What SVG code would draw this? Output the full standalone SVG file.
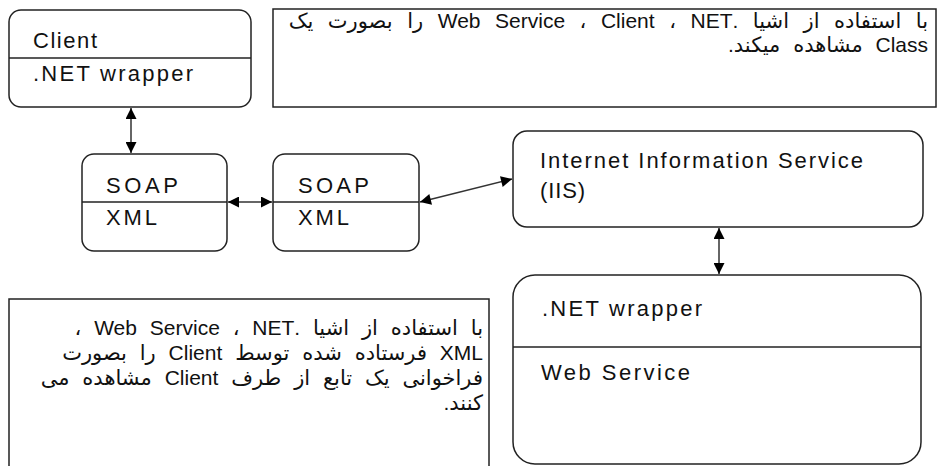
<svg xmlns="http://www.w3.org/2000/svg" width="937" height="466" viewBox="0 0 937 466">
<style>
.box{fill:#fff;stroke:#222;stroke-width:1.5}
.div{stroke:#222;stroke-width:1.5}
.lbl{font-family:"Liberation Sans",Arial,sans-serif;font-size:22px;fill:#111}
.fa{font-family:"Liberation Sans","DejaVu Sans",sans-serif;font-size:21px;word-spacing:7px;fill:#111}
.con{stroke:#333;stroke-width:1.5;fill:none;marker-start:url(#ah);marker-end:url(#ah)}
</style>
<defs>
<marker id="ah" viewBox="0 0 10 10" refX="10" refY="5" markerWidth="12" markerHeight="11" markerUnits="userSpaceOnUse" orient="auto-start-reverse">
<path d="M0,0 L10,5 L0,10 z" fill="#000"/>
</marker>
</defs>
<rect width="937" height="466" fill="#fff"/>
<g id="client">
<rect class="box" x="9" y="10" width="242" height="97" rx="12"/>
<line class="div" x1="9" y1="58" x2="251" y2="58"/>
<text class="lbl" x="33" y="48" textLength="64" lengthAdjust="spacing">Client</text>
<text class="lbl" x="33" y="81" textLength="160" lengthAdjust="spacing">.NET wrapper</text>
</g>
<g id="note-top">
<rect class="box" x="273" y="9" width="663" height="98"/>
<text class="fa" direction="rtl" x="928" y="28" text-anchor="start" style="word-spacing:8.7px">با استفاده از اشیا .NET &#x200F;، Client &#x200F;، Web Service را بصورت یک</text>
<text class="fa" direction="rtl" x="928" y="52" text-anchor="start">Class مشاهده میکند.</text>
</g>
<g id="soap1">
<rect class="box" x="82" y="154" width="145" height="97" rx="12"/>
<line class="div" x1="82" y1="202" x2="227" y2="202"/>
<text class="lbl" x="106" y="193" textLength="72" lengthAdjust="spacing">SOAP</text>
<text class="lbl" x="106" y="225" textLength="51" lengthAdjust="spacing">XML</text>
</g>
<g id="soap2">
<rect class="box" x="273" y="154" width="146" height="97" rx="12"/>
<line class="div" x1="273" y1="202" x2="419" y2="202"/>
<text class="lbl" x="298" y="193" textLength="71" lengthAdjust="spacing">SOAP</text>
<text class="lbl" x="298" y="225" textLength="51" lengthAdjust="spacing">XML</text>
</g>
<g id="iis">
<rect class="box" x="513" y="131" width="410" height="96" rx="14"/>
<text class="lbl" x="540" y="168" textLength="323" lengthAdjust="spacing">Internet Information Service</text>
<text class="lbl" x="540" y="198" textLength="45" lengthAdjust="spacing">(IIS)</text>
</g>
<g id="webservice">
<rect class="box" x="513" y="275" width="408" height="189" rx="22"/>
<line class="div" x1="513" y1="347" x2="921" y2="347"/>
<text class="lbl" x="542" y="316" textLength="160" lengthAdjust="spacing">.NET wrapper</text>
<text class="lbl" x="541" y="380" textLength="149" lengthAdjust="spacing">Web Service</text>
</g>
<g id="note-bottom">
<rect class="box" x="9" y="299" width="480" height="200"/>
<text class="fa" direction="rtl" x="483" y="335" text-anchor="start">با استفاده از اشیا .NET &#x200F;، Web Service &#x200F;،</text>
<text class="fa" direction="rtl" x="483" y="360" text-anchor="start">XML فرستاده شده توسط Client را بصورت</text>
<text class="fa" direction="rtl" x="483" y="385" text-anchor="start">فراخوانی یک تابع از طرف Client مشاهده می</text>
<text class="fa" direction="rtl" x="483" y="410" text-anchor="start">کنند.</text>
</g>
<g id="connectors">
<line class="con" x1="131" y1="108" x2="131" y2="153"/>
<line class="con" x1="228" y1="202" x2="272" y2="202"/>
<line class="con" x1="420" y1="202" x2="512" y2="179"/>
<line class="con" x1="719" y1="228" x2="719" y2="274"/>
</g>
</svg>
